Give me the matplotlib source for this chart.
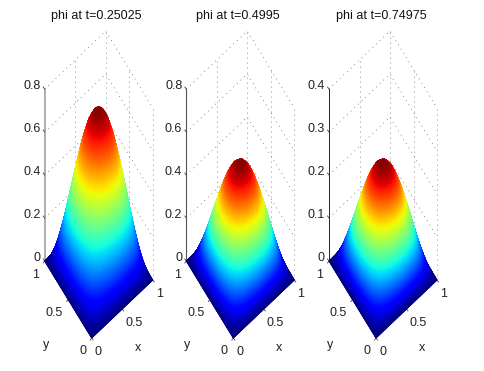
import matplotlib
matplotlib.use("Agg")
import matplotlib.pyplot as plt
import numpy as np

plt.rcParams["font.family"] = ["Liberation Sans", "DejaVu Sans"]

TITLES = ["phi at t=0.25025", "phi at t=0.4995", "phi at t=0.74975"]
PEAKS = [0.75, 0.5, 0.25]
Z_TOPS = [0.8, 0.8, 0.4]
Z_TICKS = [
    [0, 0.2, 0.4, 0.6, 0.8],
    [0, 0.2, 0.4, 0.6, 0.8],
    [0, 0.1, 0.2, 0.3, 0.4],
]
XY_TICKS = [0, 0.5, 1]
GRID_NODES = np.linspace(0, 0.5, 9)

# height as a fraction of the peak, one quadrant (x, y from 0 to 0.5), the hill is symmetric
QUADRANT = np.array([
    [0, 0, 0, 0, 0, 0, 0, 0, 0],
    [0, .038, .075, .108, .138, .162, .180, .191, .195],
    [0, .075, .147, .213, .271, .318, .354, .376, .383],
    [0, .108, .213, .309, .393, .462, .514, .545, .556],
    [0, .138, .271, .393, .500, .588, .653, .694, .707],
    [0, .162, .318, .462, .588, .691, .768, .815, .831],
    [0, .180, .354, .514, .653, .768, .854, .906, .924],
    [0, .191, .376, .545, .694, .815, .906, .962, .981],
    [0, .195, .383, .556, .707, .831, .924, .981, 1.0],
])

# front corner (x=0, y=0) of each box in figure pixels
ORIGINS = [(91.7, 338.0), (233.3, 338.0), (376.0, 338.0)]
AXIS_STYLES = [("#a8a8a8", 1.3), ("#555555", 0.8), ("#222222", 0.7)]
X_VEC = (61.0, -58.0)
Y_VEC = (-47.0, -77.0)
Z_LEN = 172.0
RENDER_STEPS = 161


def project(origin, ztop, x, y, z):
    px = origin[0] + X_VEC[0] * x + Y_VEC[0] * y
    py = origin[1] + X_VEC[1] * x + Y_VEC[1] * y - Z_LEN * np.asarray(z) / ztop
    return px, py


def surface_table():
    # mirror the quadrant, then resample on a fine mesh so the colours follow jet
    # between table nodes, like matlab's shading interp
    table = np.vstack([QUADRANT, QUADRANT[-2::-1]])
    table = np.hstack([table, table[:, -2::-1]])
    nodes = np.concatenate([GRID_NODES, 1 - GRID_NODES[-2::-1]])
    fine = np.linspace(0, 1, RENDER_STEPS)
    rows = np.array([np.interp(fine, nodes, row) for row in table])
    mesh = np.array([np.interp(fine, nodes, col) for col in rows.T]).T
    return fine, mesh


def draw_panel(ax, origin, title, peak, ztop, zticks, axis_style, fine, mesh):
    proj = lambda x, y, z: project(origin, ztop, x, y, z)
    grid_style = {"color": "#666666", "lw": 0.6, "ls": (0, (1, 5)), "zorder": 1}
    tick_color = "#404040"
    text_style = {"fontsize": 9, "color": "#222222", "va": "center"}

    for z in zticks[1:]:
        ax.plot(*proj(np.array([0, 1, 1]), np.array([1, 1, 0]), np.array([z, z, z])), **grid_style)
    for x, y in [(0.5, 1), (1, 1), (1, 0.5), (1, 0)]:
        ax.plot(*proj(np.array([x, x]), np.array([y, y]), np.array([0, ztop])), **grid_style)

    # z axis with its ticks and labels
    ax.plot(*proj(np.array([0, 0]), np.array([1, 1]), np.array([0, ztop])),
            color=axis_style[0], lw=axis_style[1], zorder=2)
    for z in zticks:
        px, py = proj(0, 1, z)
        ax.plot([px, px - 1.5], [py, py - 2], color=tick_color, lw=0.6, zorder=2)
        ax.text(px - 4, py - 3, f"{z:g}", ha="right", **text_style)

    # x and y ticks
    for v in XY_TICKS:
        px, py = proj(v, 0, 0)
        ax.plot([px, px + 1.5], [py, py + 2], color=tick_color, lw=0.6, zorder=2)
        ax.text(px + 3, py + 14, f"{v:g}", ha="left", **text_style)
        px, py = proj(0, v, 0)
        ax.plot([px, px - 1.5], [py, py + 2], color=tick_color, lw=0.6, zorder=2)
        ax.text(px - 5.5, py + 13.5, f"{v:g}", ha="right", **text_style)

    # back corner goes first so the front of the hill paints over it
    xx, yy = np.meshgrid(fine[::-1], fine[::-1])
    zz = (peak * mesh)[::-1, ::-1]
    px, py = proj(xx, yy, zz)
    ax.pcolormesh(px, py, zz, shading="gouraud", cmap="jet", vmin=0, vmax=peak, zorder=3)

    ax.text(origin[0] + 46, 348, "x", ha="center", **text_style)
    ax.text(origin[0] - 46, 345, "y", ha="center", **text_style)
    ax.text(origin[0] + 5, 15.5, title, ha="center", va="center", fontsize=9, color="#111111")


def main():
    fig = plt.figure(figsize=(4.84, 3.71), dpi=100)
    ax = fig.add_axes([0, 0, 1, 1])
    ax.set_xlim(0, 484)
    ax.set_ylim(371, 0)
    ax.axis("off")
    fine, mesh = surface_table()
    for i, origin in enumerate(ORIGINS):
        draw_panel(ax, origin, TITLES[i], PEAKS[i], Z_TOPS[i], Z_TICKS[i], AXIS_STYLES[i], fine, mesh)
    fig.savefig("out.png", dpi=100)
    plt.close(fig)


if __name__ == "__main__":
    main()
